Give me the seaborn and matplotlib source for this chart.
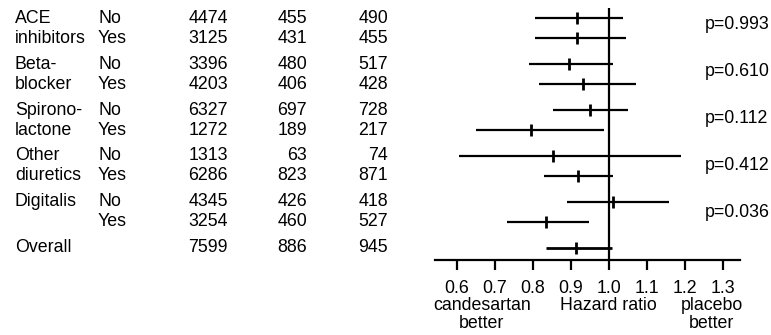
import numpy as np
import pandas as pd
import matplotlib
matplotlib.use('Agg')
import matplotlib.pyplot as plt
import matplotlib.transforms as mtransforms
import seaborn as sns

# -----------------------------------------------------------------------------
# Datos
# -----------------------------------------------------------------------------
grupo_1 = ['ACE', 'Beta-', 'Spirono-', 'Other', 'Digitalis', 'Overall']
grupo_2 = ['inhibitors', 'blocker', 'lactone', 'diuretics', '']
subgrupo = ['No', 'Yes'] * 5 + ['']
n_pacientes = [4474, 3125, 3396, 4203, 6327, 1272, 1313, 6286, 4345, 3254, 7599]
eventos_cand = [455, 431, 480, 406, 697, 189, 63, 823, 426, 460, 886]
eventos_plac = [490, 455, 517, 428, 728, 217, 74, 871, 418, 527, 945]

hr = [0.915, 0.915, 0.895, 0.932, 0.950, 0.795, 0.852, 0.919, 1.011, 0.834, 0.913]
ic_inf = [0.806, 0.806, 0.790, 0.816, 0.854, 0.651, 0.606, 0.829, 0.889, 0.733, 0.834]
ic_sup = [1.037, 1.044, 1.011, 1.072, 1.050, 0.987, 1.189, 1.011, 1.158, 0.947, 1.008]

p_valores = ['p=0.993', 'p=0.610', 'p=0.112', 'p=0.412', 'p=0.036']
ticks_x = [0.6, 0.7, 0.8, 0.9, 1.0, 1.1, 1.2, 1.3]

# posicion vertical de cada fila (grupos separados)
SALTO = 2.3
pos_y = []
for g in range(5):
    pos_y += [g * SALTO, g * SALTO + 1]
pos_y.append(5 * SALTO)
pos_p = [0.3, 2.65, 5.0, 7.4, 9.75]

df = pd.DataFrame({'hr': hr, 'lo': ic_inf, 'hi': ic_sup, 'y': pos_y})

# -----------------------------------------------------------------------------
# Figura
# -----------------------------------------------------------------------------
sns.set_theme(style='white')
plt.rcParams['font.family'] = ['Liberation Sans', 'DejaVu Sans']
plt.rcParams['text.color'] = 'black'
TAM = 12.8

fig = plt.figure(figsize=(7.71, 3.35), dpi=100)
ax = fig.add_axes([0.5642, 0.2239, 0.3956, 0.7522])

# intervalos de confianza
anchos = [1.6] * 10 + [2.0]
ax.hlines(df['y'], df['lo'], df['hi'], color='black', linewidth=anchos)
# estimacion puntual
sns.scatterplot(data=df, x='hr', y='y', marker='|', s=70, linewidth=2,
                color='black', ax=ax, zorder=3)
ax.axvline(1.0, color='black', linewidth=1.6)

ax.set_xlim(0.543, 1.344)
ax.set_ylim(12.1, -0.5)
ax.set_xticks(ticks_x)
ax.set_xticklabels([f'{t:.1f}' for t in ticks_x], fontsize=TAM)
ax.set_yticks([])
ax.set_xlabel('')
ax.set_ylabel('')
for s in ['top', 'right', 'left']:
    ax.spines[s].set_visible(False)
ax.spines['bottom'].set_color('black')
ax.spines['bottom'].set_linewidth(1.6)
ax.tick_params(axis='x', bottom=True, direction='out', length=7, width=1.6,
               color='black', pad=7.5, labelcolor='black')

# textos de la tabla (x en fraccion de figura, y en datos)
tr = mtransforms.blended_transform_factory(fig.transFigure, ax.transData)
for i, y in enumerate(pos_y):
    if i % 2 == 0:
        etiqueta = grupo_1[i // 2]
    else:
        etiqueta = grupo_2[i // 2]
    ax.text(15 / 771, y, etiqueta, transform=tr, ha='left', va='center', fontsize=TAM)
    ax.text(98 / 771, y, subgrupo[i], transform=tr, ha='left', va='center', fontsize=TAM)
    ax.text(228 / 771, y, str(n_pacientes[i]), transform=tr, ha='right', va='center', fontsize=TAM)
    ax.text(307 / 771, y, str(eventos_cand[i]), transform=tr, ha='right', va='center', fontsize=TAM)
    ax.text(388 / 771, y, str(eventos_plac[i]), transform=tr, ha='right', va='center', fontsize=TAM)

for p, y in zip(p_valores, pos_p):
    ax.text(705 / 771, y, p, transform=tr, ha='left', va='center', fontsize=TAM)

# leyendas bajo el eje
fila_1 = 1 - 305 / 335
fila_2 = 1 - 323 / 335
fig.text(481.7 / 771, fila_1, 'candesartan', ha='center', va='center', fontsize=TAM)
fig.text(481.7 / 771, fila_2, 'better', ha='center', va='center', fontsize=TAM)
fig.text(608 / 771, fila_1, 'Hazard ratio', ha='center', va='center', fontsize=TAM)
fig.text(711.7 / 771, fila_1, 'placebo', ha='center', va='center', fontsize=TAM)
fig.text(711.7 / 771, fila_2, 'better', ha='center', va='center', fontsize=TAM)

plt.savefig('out.png', dpi=100, facecolor='white')
